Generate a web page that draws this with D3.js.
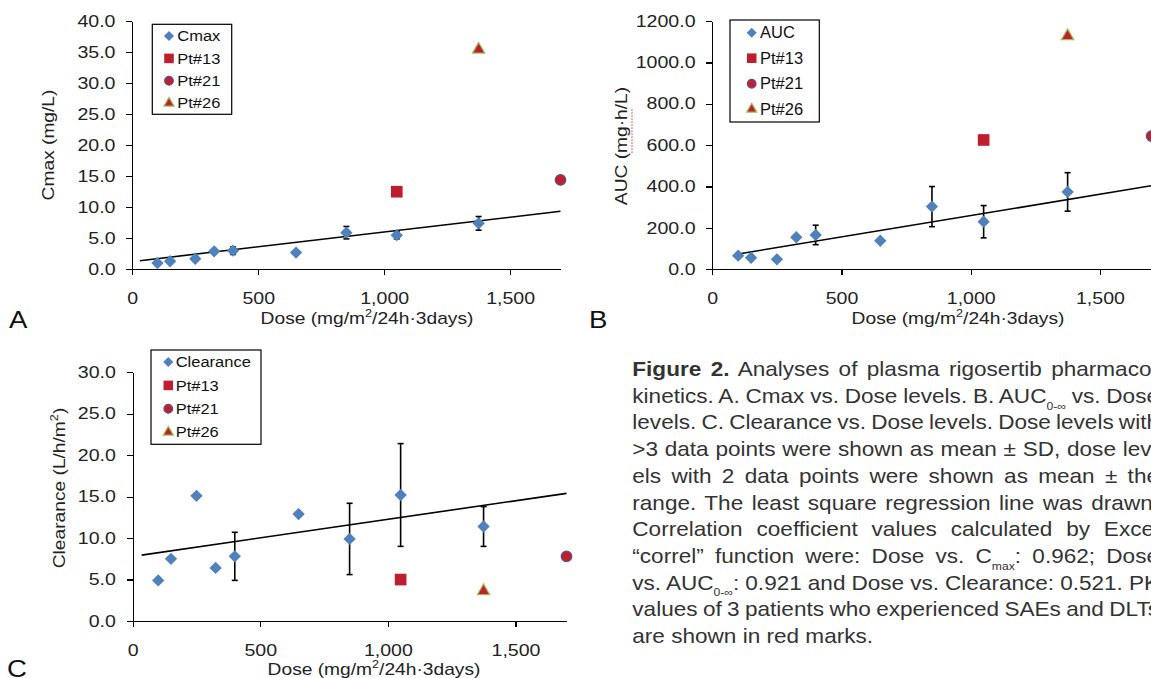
<!DOCTYPE html>
<html lang="en">
<head>
<meta charset="UTF-8">
<title>Rigosertib PK vs dose</title>
<script src="https://d3js.org/d3.v7.min.js"></script>
<style>
    body { margin: 0; background: #fff; }
    svg { display: block; font-family: "Liberation Sans", Arial, sans-serif; }
    .axis path, .axis line { stroke: #000; stroke-width: 1.3; fill: none; shape-rendering: crispEdges; }
    .axis text { font-size: 16.3px; fill: #222; font-family: "Liberation Sans", Arial, sans-serif; }
    .title { font-size: 16px; fill: #222; }
    .tag { font-size: 23px; fill: #111; }
    .legend text { fill: #111; }
    .caption text { font-size: 19.5px; fill: #333; }
</style>
</head>
<body>
<script>
    var width = 1151, height = 678;
    var stretch = 1.2;   // the printed figure is widened, glyphs too

    // dose levels, mg/m2/24h x 3 days
    var doses = [100, 150, 250, 325, 400, 650, 850, 1050, 1375];

    var cmaxMean = [1.0, 1.3, 1.7, 2.9, 3.0, 2.7, 5.9, 5.5, 7.4];
    var cmaxErr  = [0, 0, 0, 0, 0.6, 0, 1.0, 0.6, 1.1];
    var aucMean  = [66, 56, 48, 155, 166, 138, 303, 230, 374];
    var aucErr   = [0, 0, 0, 0, 47, 0, 97, 78, 93];
    var clMean   = [4.9, 7.5, 15.1, 6.4, 7.8, 12.9, 9.9, 15.2, 11.4];
    var clErr    = [0, 0, 0, 0, 2.9, 0, 4.3, 6.2, 2.4];

    // patients with SAEs / DLTs
    var patients     = ["Pt#13", "Pt#21", "Pt#26"];
    var patientDose  = [1050, 1700, 1375];
    var cmaxPatients = [12.5, 14.4, 35.4];
    var aucPatients  = [625, 644, 1127];
    var clPatients   = [5.0, 7.8, 3.6];

    // least square lines, end points as drawn
    var cmaxFit = [[30, 1.39], [1700, 9.34]];
    var aucFit  = [[100, 74], [1700, 404]];
    var clFit   = [[35, 7.95], [1700, 15.4]];

    var doseTicks = [0, 500, 1000, 1500];
    var cmaxTicks = [0, 5, 10, 15, 20, 25, 30, 35, 40];
    var aucTicks  = [0, 200, 400, 600, 800, 1000, 1200];
    var clTicks   = [0, 5, 10, 15, 20, 25, 30];

    var captionLines = [
        "**Figure 2.** Analyses of plasma rigosertib pharmaco-",
        "kinetics. A. Cmax vs. Dose levels. B. AUC_{0-∞} vs. Dose",
        "levels. C. Clearance vs. Dose levels. Dose levels with",
        ">3 data points were shown as mean ± SD, dose lev-",
        "els with 2 data points were shown as mean ± the",
        "range. The least square regression line was drawn.",
        "Correlation coefficient values calculated by Excel",
        "“correl” function were: Dose vs. C_{max}: 0.962; Dose",
        "vs. AUC_{0-∞}: 0.921 and Dose vs. Clearance: 0.521. PK",
        "values of 3 patients who experienced SAEs and DLTs",
        "are shown in red marks."
    ];

    var marks = {
        diamond:  {type: d3.symbolSquare,   size: 76,  rotate: 45, fill: "#4F81BD", stroke: "none"},
        square:   {type: d3.symbolSquare,   size: 136, rotate: 0,  fill: "#BE1E2D", stroke: "none"},
        circle:   {type: d3.symbolCircle,   size: 88,  rotate: 0,  fill: "#C0202A", stroke: "#5B4F9E"},
        triangle: {type: d3.symbolTriangle, size: 66,  rotate: 0,  fill: "#C0202A", stroke: "#9BBB59"}
    };
    var patientMarks = ["square", "circle", "triangle"];

    var svg = d3.select("body").append("svg")
            .attr("width", width).attr("height", height);

    // text with **bold**, _{sub} and ^{sup} pieces
    function rich(text, str, small) {
        var back = 0;
        str.split(/(\*\*[^*]+\*\*|_\{[^}]+\}|\^\{[^}]+\})/).forEach(function (s) {
            if (!s) return;
            var t = text.append("tspan");
            if (back) { t.attr("dy", -back); back = 0; }
            if (s.slice(0, 2) === "**") {
                t.attr("font-weight", "bold").text(s.slice(2, -2));
            } else if (s[0] === "_" || s[0] === "^") {
                back = s[0] === "_" ? small * 0.65 : -small * 0.62;
                t.attr("font-size", small).attr("dy", back).text(s.slice(2, -1));
            } else {
                t.text(s);
            }
        });
    }

    function symbol(g, name, x, y, scale) {
        var m = marks[name];
        g.append("path")
                .attr("d", d3.symbol().type(m.type).size(m.size * scale * scale)())
                .attr("transform", "translate(" + x + "," + y + ") rotate(" + m.rotate + ")")
                .attr("fill", m.fill)
                .attr("stroke", m.stroke)
                .attr("stroke-width", 1.2);
    }

    function panel(p) {
        var g = svg.append("g");
        var x = d3.scaleLinear().domain([0, 1700]).range([p.left, p.right]);
        var y = d3.scaleLinear().domain([0, p.yMax]).range([p.bottom, p.top]);

        g.append("line")
                .attr("x1", x(p.fit[0][0])).attr("y1", y(p.fit[0][1]))
                .attr("x2", x(p.fit[1][0])).attr("y2", y(p.fit[1][1]))
                .attr("stroke", "#000").attr("stroke-width", 1.6);

        var rows = doses.map(function (d, i) {
            return {dose: d, mean: p.mean[i], err: p.err[i]};
        });

        var bars = g.selectAll(".err")
                .data(rows.filter(function (d) { return d.err > 0; }))
                .enter().append("g").attr("class", "err")
                .attr("stroke", "#000").attr("stroke-width", 1.6);
        bars.append("line")
                .attr("x1", function (d) { return x(d.dose); })
                .attr("x2", function (d) { return x(d.dose); })
                .attr("y1", function (d) { return y(d.mean - d.err); })
                .attr("y2", function (d) { return y(d.mean + d.err); });
        [-1, 1].forEach(function (s) {
            bars.append("line")
                    .attr("x1", function (d) { return x(d.dose) - 3; })
                    .attr("x2", function (d) { return x(d.dose) + 3; })
                    .attr("y1", function (d) { return y(d.mean + s * d.err); })
                    .attr("y2", function (d) { return y(d.mean + s * d.err); });
        });

        rows.forEach(function (d) {
            symbol(g, "diamond", x(d.dose), y(d.mean), 1);
        });
        patients.forEach(function (name, i) {
            symbol(g, patientMarks[i], x(patientDose[i]), y(p.pts[i]), 1);
        });

        g.append("g").attr("class", "axis")
                .attr("transform", "translate(0," + p.bottom + ")")
                .call(d3.axisBottom(x).tickValues(doseTicks).tickFormat(d3.format(","))
                        .tickSize(6).tickSizeOuter(0).tickPadding(17));
        g.append("g").attr("class", "axis")
                .attr("transform", "translate(" + p.left + ",0)")
                .call(d3.axisLeft(y).tickValues(p.yTicks).tickFormat(d3.format(".1f"))
                        .tickSize(6).tickSizeOuter(0).tickPadding(8));
        g.selectAll(".axis text").attr("transform", "scale(" + stretch + ",1)");

        var xt = g.append("g")
                .attr("transform", "translate(" + p.xTitle[0] + "," + p.xTitle[1] + ") scale(" + stretch + ",1)")
                .append("text").attr("class", "title").attr("text-anchor", "middle");
        rich(xt, "Dose (mg/m^{2}/24h·3days)", 10.5);

        var ytg = g.append("g")
                .attr("transform", "translate(" + p.yTitle[0] + "," + p.yTitle[1] + ") rotate(-90) scale(" + stretch + ",1)");
        var yt = ytg.append("text").attr("class", "title").attr("text-anchor", "middle");
        rich(yt, p.yLabel, 10.5);
        if (p.squiggle) {
            var node = yt.node();
            var full = node.getComputedTextLength();
            var at = p.yLabel.indexOf(p.squiggle);
            var x0 = -full / 2 + node.getSubStringLength(0, at);
            ytg.append("line")
                    .attr("x1", x0).attr("x2", x0 + node.getSubStringLength(at, p.squiggle.length))
                    .attr("y1", 5).attr("y2", 5)
                    .attr("stroke", "#E0504F").attr("stroke-width", 1)
                    .attr("stroke-dasharray", "1.5,1");
        }

        g.append("g")
                .attr("transform", "translate(" + p.tag[0] + "," + p.tag[1] + ") scale(" + stretch + ",1)")
                .append("text").attr("class", "tag").text(p.name);

        var L = p.legend;
        var lg = g.append("g").attr("class", "legend");
        lg.append("rect")
                .attr("x", L.x).attr("y", L.y).attr("width", L.w).attr("height", L.h)
                .attr("fill", "#fff").attr("stroke", "#000").attr("stroke-width", 1.2);
        [L.series].concat(patients).forEach(function (label, i) {
            var ry = L.row0 + i * L.step;
            symbol(lg, i === 0 ? "diamond" : patientMarks[i - 1], L.mx, ry, 0.82);
            lg.append("g")
                    .attr("transform", "translate(" + L.tx + "," + ry + ") scale(" + L.k + ",1)")
                    .append("text")
                    .attr("dy", "0.35em")
                    .style("font-size", L.size + "px")
                    .text(label);
        });
    }

    panel({
        name: "A", left: 132.3, right: 560.5, top: 21, bottom: 269.3, yMax: 40, yTicks: cmaxTicks,
        mean: cmaxMean, err: cmaxErr, pts: cmaxPatients, fit: cmaxFit,
        yLabel: "Cmax (mg/L)", yTitle: [53.5, 145], xTitle: [367, 323.5], tag: [9, 328],
        legend: {series: "Cmax", x: 152.3, y: 24.3, w: 79.4, h: 90, mx: 169, tx: 177.3,
            row0: 36, step: 22.4, size: 15, k: 1.1}
    });
    panel({
        name: "B", left: 712.3, right: 1151.6, top: 21, bottom: 269.3, yMax: 1200, yTicks: aucTicks,
        mean: aucMean, err: aucErr, pts: aucPatients, fit: aucFit,
        yLabel: "AUC (mg·h/L)", squiggle: "mg·h", yTitle: [627, 146], xTitle: [958, 324], tag: [589, 328],
        legend: {series: "AUC", x: 730, y: 20, w: 89.3, h: 102, mx: 751.7, tx: 760,
            row0: 32.7, step: 25.5, size: 16, k: 1.03}
    });
    panel({
        name: "C", left: 132.7, right: 566.5, top: 372.3, bottom: 621, yMax: 30, yTicks: clTicks,
        mean: clMean, err: clErr, pts: clPatients, fit: clFit,
        yLabel: "Clearance (L/h/m^{2})", yTitle: [65, 488], xTitle: [374, 675], tag: [7, 677],
        legend: {series: "Clearance", x: 151, y: 350, w: 110, h: 94.3, mx: 168.3, tx: 175.7,
            row0: 362, step: 23.4, size: 15, k: 1.1}
    });

    // caption, justified lines running past the right edge
    var capLeft = 632.3, capRight = 1159, capTop = 376, capStep = 26.7, lastWidth = 241;
    var cap = svg.append("g").attr("class", "caption");
    var texts = captionLines.map(function (line, i) {
        var t = cap.append("g")
                .attr("transform", "translate(" + capLeft + "," + (capTop + i * capStep) + ")")
                .append("text");
        rich(t, line, 10.5);
        return t;
    });
    var kCap = lastWidth / texts[texts.length - 1].node().getComputedTextLength();
    texts.forEach(function (t, i) {
        var line = captionLines[i];
        d3.select(t.node().parentNode)
                .attr("transform", "translate(" + capLeft + "," + (capTop + i * capStep) + ") scale(" + kCap + ",1)");
        if (i === texts.length - 1) return;
        var natural = t.node().getComputedTextLength();
        var spaces = line.split(" ").length - 1;
        t.style("word-spacing", ((capRight - capLeft) / kCap - natural) / spaces + "px");
    });
</script>
</body>
</html>
